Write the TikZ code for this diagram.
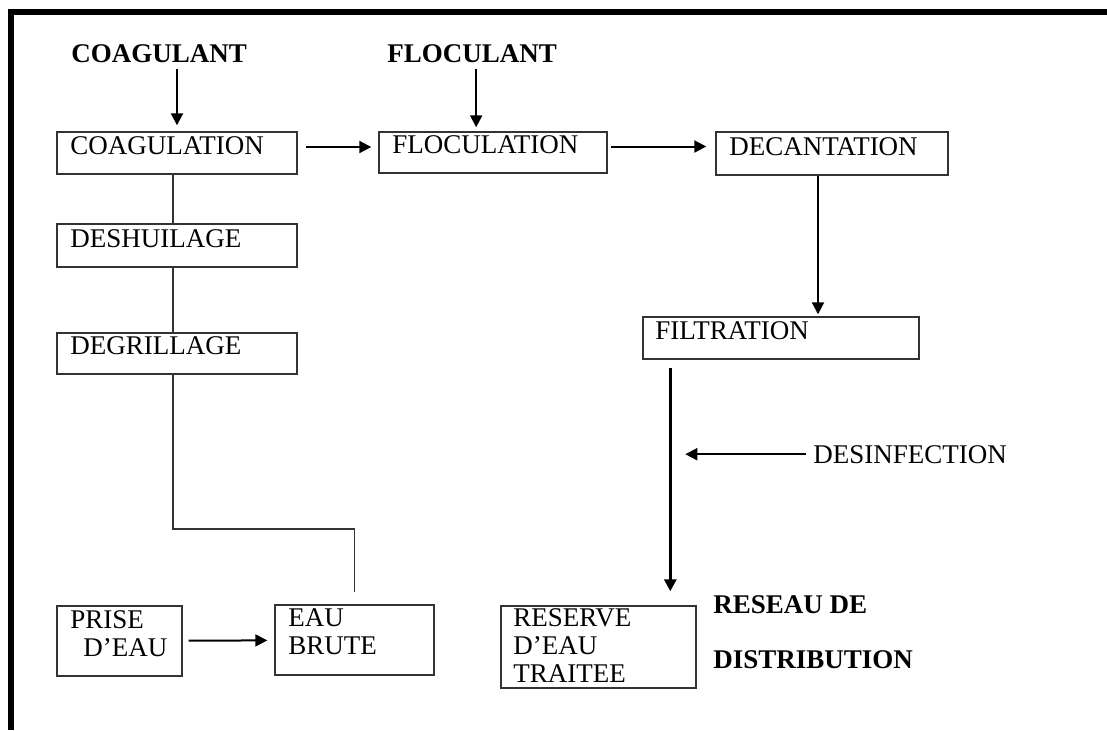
\documentclass[tikz,border=0pt]{standalone}
\usepackage{fontspec}
\setmainfont{Liberation Serif}
\usetikzlibrary{arrows.meta,positioning,calc,fit}
\tikzset{
  >=Triangle,
  every node/.append style={font=\fontsize{13.5}{13.8}\selectfont},
}
\tikzset{
  box/.style={draw=black!80, line width=0.7pt, inner sep=0pt},
  arrow/.style={-{Triangle[length=6pt,width=6pt]}, line width=1pt},
  link/.style={draw=black!80, line width=0.7pt}
}

\begin{document}
\begin{tikzpicture}[
  x=0.5pt, y=-0.5pt,
  lbl/.style={inner sep=0pt, anchor=base west, align=left},
  inp/.style={lbl, font=\fontsize{13.5}{13.8}\selectfont\bfseries},
  frame/.style={line width=3pt},
  trunk/.style={arrow, line width=1.5pt}
]
\useasboundingbox (0,0) rectangle (1107,730);

% Frame - only top and left edges show
\draw[frame] (1107,12) -- (11,12) -- (11,730);

% Reagents
\node[inp] (coagIn) at (71,62) {COAGULANT};
\node[inp] (flocIn) at (387,62) {FLOCULANT};

% Top row: coagulation, floculation, decantation
\node[box, fit={(57,132) (297,174)}] (coag) {};
\node[lbl] (coagT) at (70,154) {COAGULATION};
\node[box, fit={(379,132) (607,173)}] (floc) {};
\node[lbl] (flocT) at (392,153) {FLOCULATION};
\node[box, fit={(716,132) (948,175)}] (decant) {};
\node[lbl] (decantT) at (729,155) {DECANTATION};

% Left column: pretreatment
\node[box, fit={(57,224) (297,267)}] (desh) {};
\node[lbl] (deshT) at (70,247) {DESHUILAGE};
\node[box, fit={(57,333) (297,374)}] (degr) {};
\node[lbl] (degrT) at (70,354) {DEGRILLAGE};

% Bottom row: intake, raw water, treated water (base = last line)
\node[box, fit={(57,606) (182,676)}] (prise) {};
\node[lbl] (priseT) at (70,656) {PRISE\\\hspace{6.5pt}D’EAU};
\node[box, fit={(275,605) (434,675)}] (brute) {};
\node[lbl] (bruteT) at (288,654) {EAU\\BRUTE};
\node[box, fit={(501,606) (696,688)}] (resv) {};
\node[lbl] (resvT) at (513,682) {RESERVE\\D’EAU\\TRAITEE};
\node[inp] (reseau) at (713,668) {RESEAU DE\\[13.7pt]DISTRIBUTION};

% Right side: filtration and disinfection
\node[box, fit={(643,317) (919,359)}] (filt) {};
\node[lbl] (filtT) at (655,339) {FILTRATION};
\node[lbl] (desT) at (813,463) {DESINFECTION};

% Helper points
\coordinate (fv) at ([xshift=14pt]filt.south west);
\coordinate (bend) at (173,529);

% Reagent dosing
\draw[arrow, shorten <=3pt, shorten >=3pt] (coag.north |- coagIn.south) -- (coag.north);
\draw[arrow, shorten <=3pt, shorten >=2pt] ([xshift=2pt]flocIn.south) -- ([xshift=2pt]flocIn.south |- floc.north);

% Main line
\draw[arrow, shorten <=4pt, shorten >=3.5pt] ([yshift=3pt]coag.east) -- ([yshift=3pt]coag.east -| floc.west);
\draw[arrow, shorten <=1.5pt, shorten >=4.5pt] ([yshift=3pt]floc.east) -- ([yshift=3pt]floc.east -| decant.west);
\draw[arrow, shorten >=1pt] ([xshift=-7pt]decant.south) -- ([xshift=-7pt]decant.south |- filt.north);
\draw[trunk, shorten <=4pt, shorten >=7pt] (fv) -- (fv |- resv.north);
\draw[arrow, shorten <=3.5pt, shorten >=7.5pt] (desT.west) -- (desT.west -| fv);

% Raw water up to coagulation
\draw[arrow, shorten <=3pt, shorten >=3.5pt] (prise) -- (brute);
\draw[link, shorten >=6pt] ([xshift=-2pt]degr.south) -- (bend) -| (brute.north);
\draw[link] ([xshift=-2pt]desh.south) -- ([xshift=-2pt]degr.north);
\draw[link] ([xshift=-2pt]coag.south) -- ([xshift=-2pt]desh.north);

\end{tikzpicture}
\end{document}
